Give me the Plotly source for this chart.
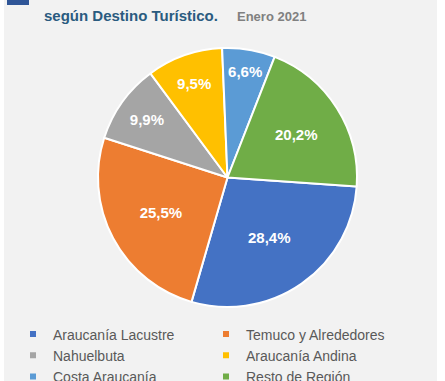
import plotly.graph_objects as go

categories = ["Araucanía Lacustre", "Temuco y Alrededores", "Nahuelbuta",
              "Araucanía Andina", "Costa Araucanía", "Resto de Región"]
values = [28.4, 25.5, 9.9, 9.5, 6.6, 20.2]
colors = ["#4472C4", "#ED7D31", "#A5A5A5", "#FFC000", "#5B9BD5", "#70AD47"]
labels_txt = [f"{v:.1f}%".replace(".", ",") for v in values]
first_slice_angle = 94  # degrees clockwise from 12 o'clock

W, H = 445, 381
cx, cy, r = 227.5, 177.5, 129.5

fig = go.Figure()
fig.add_trace(go.Pie(
    labels=categories, values=values, sort=False, direction="clockwise",
    rotation=first_slice_angle,
    marker=dict(colors=colors, line=dict(color="white", width=2)),
    text=labels_txt, textinfo="text", textposition="inside",
    insidetextorientation="horizontal",
    textfont=dict(family="Liberation Sans, Arial", size=15, color="white", weight="bold"),
    domain=dict(x=[(cx - r) / W, (cx + r) / W], y=[1 - (cy + r) / H, 1 - (cy - r) / H]),
    showlegend=False, hoverinfo="label+percent",
))
for c, col in zip(categories, colors):
    fig.add_trace(go.Scatter(x=[None], y=[None], mode="markers", name=c,
                             marker=dict(symbol="square", size=6, color=col)))

fig.add_shape(type="rect", xref="paper", yref="paper", x0=4 / W, x1=437 / W, y0=-0.05, y1=1.05,
              fillcolor="#F2F2F2", line=dict(width=0), layer="below")
fig.add_shape(type="rect", xref="paper", yref="paper", x0=7 / W, x1=29 / W, y0=1 - 5 / H, y1=1.02,
              fillcolor="#2F5597", line=dict(width=0), layer="above")

fig.add_annotation(xref="paper", yref="paper", x=42 / W, y=1 - 5 / H, xanchor="left", yanchor="top",
                   showarrow=False,
                   text="<b>según Destino Turístico.</b>",
                   font=dict(family="Liberation Sans, Arial", size=15, color="#2A5B80"))
fig.add_annotation(xref="paper", yref="paper", x=235 / W, y=1 - 7 / H, xanchor="left", yanchor="top",
                   showarrow=False, text="<b>Enero 2021</b>",
                   font=dict(family="Liberation Sans, Arial", size=13, color="#808080"))

fig.update_layout(
    width=W, height=H, margin=dict(l=0, r=0, t=0, b=0, autoexpand=False),
    paper_bgcolor="white", plot_bgcolor="rgba(0,0,0,0)", hovermode=False,
    xaxis=dict(visible=False), yaxis=dict(visible=False),
    legend=dict(orientation="h", x=13 / W, y=1 - 318.5 / H, xanchor="left", yanchor="top",
                entrywidth=148, entrywidthmode="pixels", bgcolor="rgba(0,0,0,0)",
                font=dict(family="Liberation Sans, Arial", size=14, color="#595959")),
)
fig.write_html("out.html", config={"displayModeBar": False},
               post_script="document.body.style.margin='0px';")
